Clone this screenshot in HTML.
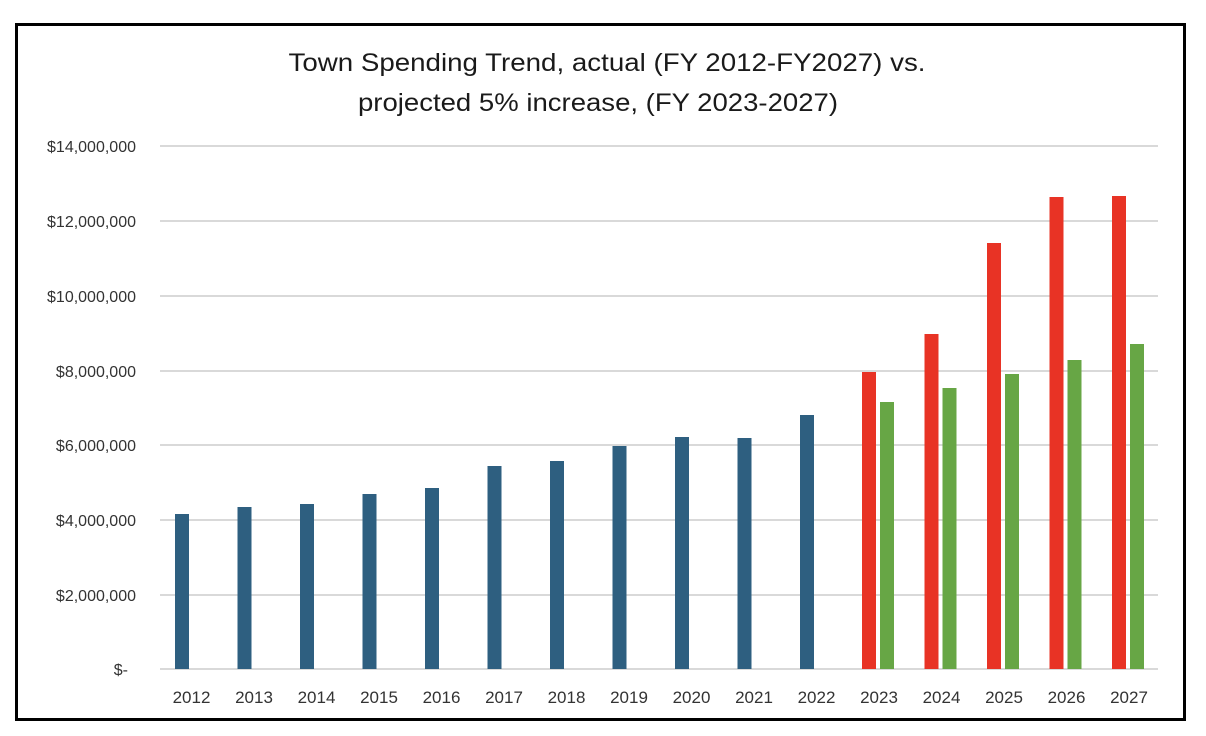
<!DOCTYPE html>
<html><head><style>html,body{margin:0;padding:0;background:#fff}svg{display:block}</style></head>
<body>
<svg width="1206" height="736" xmlns="http://www.w3.org/2000/svg" font-family="Liberation Sans, sans-serif">
<rect width="1206" height="736" fill="#fff"/>
<rect x="16.5" y="24.5" width="1168" height="695" fill="#fff" stroke="#000" stroke-width="3"/>
<text x="607" y="71" font-size="25" text-anchor="middle" fill="#1a1a1a" textLength="637" lengthAdjust="spacingAndGlyphs">Town Spending Trend, actual (FY 2012-FY2027) vs.</text>
<text x="598" y="111" font-size="25" text-anchor="middle" fill="#1a1a1a" textLength="480" lengthAdjust="spacingAndGlyphs">projected 5% increase, (FY 2023-2027)</text>
<g stroke="#d9d9d9" stroke-width="2">
<line x1="160" x2="1158" y1="146" y2="146"/><line x1="160" x2="1158" y1="221" y2="221"/>
<line x1="160" x2="1158" y1="296" y2="296"/><line x1="160" x2="1158" y1="371" y2="371"/>
<line x1="160" x2="1158" y1="445" y2="445"/><line x1="160" x2="1158" y1="520" y2="520"/>
<line x1="160" x2="1158" y1="595" y2="595"/><line x1="160" x2="1158" y1="669" y2="669"/>
</g>
<g font-size="16" fill="#333" text-anchor="end">
<text x="136" y="152">$14,000,000</text><text x="136" y="227">$12,000,000</text>
<text x="136" y="302">$10,000,000</text><text x="136" y="377">$8,000,000</text>
<text x="136" y="451">$6,000,000</text><text x="136" y="526">$4,000,000</text>
<text x="136" y="601">$2,000,000</text><text x="128" y="675">$-</text>
</g>
<g fill="#2e5f80">
<rect x="175" y="514" width="14" height="155"/>
<rect x="237.5" y="507" width="14" height="162"/>
<rect x="300" y="504" width="14" height="165"/>
<rect x="362.5" y="494" width="14" height="175"/>
<rect x="425" y="488" width="14" height="181"/>
<rect x="487.5" y="466" width="14" height="203"/>
<rect x="550" y="461" width="14" height="208"/>
<rect x="612.5" y="446" width="14" height="223"/>
<rect x="675" y="437" width="14" height="232"/>
<rect x="737.5" y="438" width="14" height="231"/>
<rect x="800" y="415" width="14" height="254"/>
</g>
<g fill="#e83325">
<rect x="862" y="372" width="14" height="297"/>
<rect x="924.5" y="334" width="14" height="335"/>
<rect x="987" y="243" width="14" height="426"/>
<rect x="1049.5" y="197" width="14" height="472"/>
<rect x="1112" y="196" width="14" height="473"/>
</g>
<g fill="#67a645">
<rect x="880" y="402" width="14" height="267"/>
<rect x="942.5" y="388" width="14" height="281"/>
<rect x="1005" y="374" width="14" height="295"/>
<rect x="1067.5" y="360" width="14" height="309"/>
<rect x="1130" y="344" width="14" height="325"/>
</g>
<g font-size="17" fill="#333" text-anchor="middle">
<text x="191.5" y="703">2012</text><text x="254" y="703">2013</text><text x="316.5" y="703">2014</text>
<text x="379" y="703">2015</text><text x="441.5" y="703">2016</text><text x="504" y="703">2017</text>
<text x="566.5" y="703">2018</text><text x="629" y="703">2019</text><text x="691.5" y="703">2020</text>
<text x="754" y="703">2021</text><text x="816.5" y="703">2022</text><text x="879" y="703">2023</text>
<text x="941.5" y="703">2024</text><text x="1004" y="703">2025</text><text x="1066.5" y="703">2026</text>
<text x="1129" y="703">2027</text>
</g>
</svg>
</body></html>
